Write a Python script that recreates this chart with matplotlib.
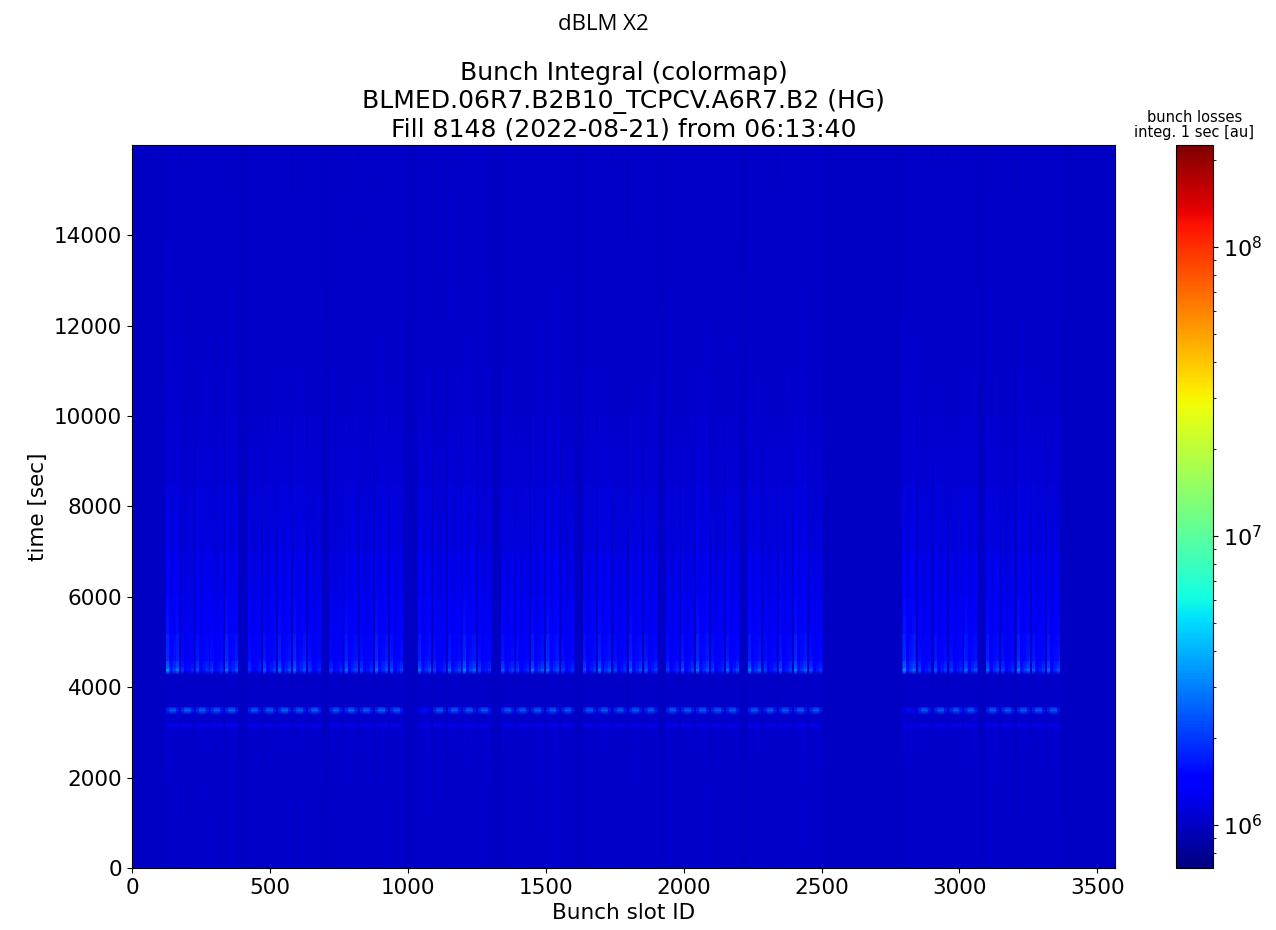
import numpy as np
import matplotlib.pyplot as plt
from matplotlib.colors import LogNorm

# filled 48-bunch trains (centre slot), read from the dashes at ~3500 s
train_centers = [150, 203, 257, 310, 364,
                 446, 501, 556, 610, 665,
                 742, 797, 852, 907, 962,
                 1063, 1117, 1171, 1225, 1280,
                 1365, 1419, 1473, 1528, 1583,
                 1661, 1715, 1772, 1828, 1884,
                 1963, 2017, 2071, 2126, 2180,
                 2259, 2316, 2371, 2426, 2482,
                 2820, 2875, 2934, 2990, 3044,
                 3123, 3178, 3234, 3289, 3343]

# excess losses per train [1e6 au]
streak_amp = [1.0, 0.5, 0.7, 0.6, 0.9, 0.6, 0.7, 0.8, 0.9, 0.6,
              0.5, 0.8, 0.6, 0.9, 0.7, 0.8, 0.6, 0.7, 0.9, 0.6,
              0.7, 0.6, 0.8, 0.9, 0.6, 0.7, 0.8, 0.6, 0.8, 0.7,
              0.6, 0.7, 0.9, 0.6, 0.7, 0.8, 0.6, 0.7, 0.9, 0.6,
              1.0, 0.6, 0.7, 0.6, 0.8, 0.8, 0.6, 0.9, 0.7, 0.8]
spot_amp = [2.4, 0.8, 0.9, 1.0, 1.5, 0.6, 1.2, 1.6, 1.5, 0.8,
            0.9, 1.5, 1.0, 1.5, 1.2, 1.6, 0.9, 1.5, 2.0, 1.0,
            1.3, 0.9, 1.8, 1.6, 0.9, 1.0, 1.8, 1.0, 1.5, 1.2,
            0.9, 1.2, 1.5, 0.9, 1.6, 2.0, 0.9, 1.2, 1.8, 1.2,
            2.1, 1.0, 1.2, 0.9, 1.6, 1.5, 1.0, 2.0, 1.2, 1.5]
dash_amp = [1.0, 1.1, 1.1, 1.0, 1.1, 1.0, 1.0, 1.1, 1.0, 1.1,
            1.0, 1.1, 1.0, 1.1, 1.0, 0.3, 1.0, 1.0, 1.0, 1.0,
            1.0, 1.0, 1.0, 1.0, 1.0, 1.0, 1.0, 1.0, 1.0, 1.0,
            1.0, 1.0, 1.0, 1.0, 1.0, 1.0, 1.0, 1.0, 1.0, 1.0,
            0.3, 1.0, 1.0, 1.0, 1.0, 1.0, 1.0, 1.0, 1.0, 1.0]

# shape inside one train, 4 blocks of 12 bunches
train_blocks = [1.0, 0.45, 0.65, 0.85]
dash_blocks = [0.5, 1.0, 1.0, 0.4]

# time profiles [s]
time_knots = [0, 2000, 3000, 3100, 3160, 3220, 3420, 3500, 3580, 3650,
              4300, 4370, 4430, 4600, 5200, 6000, 7000, 8500, 10000,
              12000, 14000, 16000]
fill_lvl = [0.03, 0.03, 0.04, 0.04, 0.06, 0.04, 0.04, 0.10, 0.04, 0.02,
            0.02, 0.10, 0.12, 0.12, 0.10, 0.08, 0.06, 0.05, 0.035,
            0.025, 0.02, 0.02]
streak_lvl = [0.02, 0.03, 0.05, 0.05, 0.2, 0.05, 0.03, 0.05, 0.03, 0.01,
              0.0, 0.3, 1.0, 0.85, 0.6, 0.42, 0.26, 0.13, 0.075,
              0.04, 0.03, 0.02]
dash_lvl = [0, 0, 0, 0, 0.28, 0, 0, 1.6, 0, 0,
            0, 0, 0, 0, 0, 0, 0, 0, 0, 0, 0, 0]
spot_lvl = [0, 0, 0, 0, 0, 0, 0, 0, 0, 0,
            0, 1.0, 0.25, 0, 0, 0, 0, 0, 0, 0, 0, 0]
base = 1.0e6

n_slots = 3564
slots = np.arange(n_slots + 1)
fill = np.zeros(n_slots + 1)
streak = np.zeros(n_slots + 1)
dash = np.zeros(n_slots + 1)
spot = np.zeros(n_slots + 1)
for c, a, d, p in zip(train_centers, streak_amp, dash_amp, spot_amp):
    s0 = c - 24
    for k in range(4):
        seg = slice(s0 + 12 * k, s0 + 12 * k + 12)
        fill[seg] = 1
        streak[seg] = a * train_blocks[k]
        dash[seg] = d * dash_blocks[k]
        spot[seg] = p * train_blocks[k] ** 2

Z = base + 1e6 * (np.outer(fill_lvl, fill) + np.outer(streak_lvl, streak)
                  + np.outer(dash_lvl, dash) + np.outer(spot_lvl, spot))

fig = plt.figure(figsize=(12.76, 9.30), dpi=100)
ax = fig.add_axes([132 / 1276, 62 / 930, 983 / 1276, 723 / 930])
cax = fig.add_axes([1176 / 1276, 62 / 930, 37 / 1276, 723 / 930])

mesh = ax.pcolormesh(slots, time_knots, Z, shading='gouraud', cmap='jet',
                     norm=LogNorm(vmin=7.1e5, vmax=2.25e8), rasterized=True)
ax.set_xlim(0, n_slots)
ax.set_ylim(0, 16000)
ax.set_xticks(range(0, 3501, 500))
ax.set_yticks(range(0, 14001, 2000))
ax.tick_params(labelsize=15.5)
ax.set_xlabel('Bunch slot ID', fontsize=15.5)
ax.set_ylabel('time [sec]', fontsize=15.5)
ax.set_title('Bunch Integral (colormap)\nBLMED.06R7.B2B10_TCPCV.A6R7.B2 (HG)\n'
             'Fill 8148 (2022-08-21) from 06:13:40', fontsize=18, pad=6)

cb = fig.colorbar(mesh, cax=cax)
cb.ax.tick_params(labelsize=16)
cax.set_title('bunch losses\ninteg. 1 sec [au]', fontsize=10.5, linespacing=1.0)

fig.text(603 / 1276, 1 - 25 / 930, 'dBLM X2', fontsize=16, family='Open Sans',
         ha='center', va='center')

plt.savefig('out.png')
plt.close()
